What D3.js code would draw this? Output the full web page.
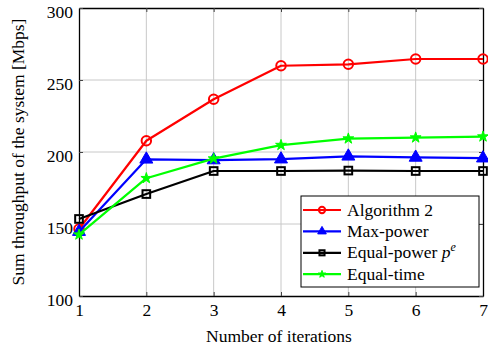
<!DOCTYPE html>
<html>
<head>
<meta charset="utf-8">
<script src="https://cdn.jsdelivr.net/npm/d3@7"></script>
<style>
  body { margin: 0; background: #fff; }
</style>
</head>
<body>
<div id="chart-area"></div>
<script>

// data
let iterations = [1, 2, 3, 4, 5, 6, 7];
let algorithm2 = [146.5, 207.8, 236.6, 259.9, 260.9, 264.6, 264.6];
let maxPower   = [144.7, 194.9, 194.4, 195.0, 197.0, 196.2, 195.7];
let equalPower = [153.5, 170.8, 186.8, 186.8, 187.1, 186.8, 186.8];
let equalTime  = [142.6, 181.8, 195.4, 204.8, 209.3, 210.0, 210.7];
let yTicks = [100, 150, 200, 250, 300];
let seriesNames = ["Algorithm 2", "Max-power", "Equal-power p^e", "Equal-time"];

let FONT = "Liberation Serif";
let FS = 17.5;

let margin = {top: 8, right: 5, bottom: 56, left: 79};
let width = 488 - margin.left - margin.right,
    height = 352 - margin.top - margin.bottom;

let svg = d3.select("#chart-area").append("svg")
    .attr("width", 488)
    .attr("height", 352)
  .append("g")
    .attr("transform", "translate(" + margin.left + "," + margin.top + ")");

let x = d3.scaleLinear().domain([1, 7]).range([0, width]);
let y = d3.scaleLinear().domain([100, 300]).range([height, 0]);

// grid
svg.append("g").selectAll("line").data(iterations.slice(1, -1)).enter().append("line")
    .attr("x1", d => x(d)).attr("x2", d => x(d))
    .attr("y1", 0).attr("y2", height)
    .attr("stroke", "#c8c8c8").attr("stroke-width", 1);
svg.append("g").selectAll("line").data(yTicks.slice(1, -1)).enter().append("line")
    .attr("y1", d => y(d)).attr("y2", d => y(d))
    .attr("x1", 0).attr("x2", width)
    .attr("stroke", "#c8c8c8").attr("stroke-width", 1);

// axes, ticks pointing inward
let xAxis = svg.append("g")
    .attr("transform", "translate(0," + height + ")")
    .call(d3.axisBottom(x).tickValues(iterations).tickFormat(d3.format("d")).tickSizeInner(-4).tickSizeOuter(0).tickPadding(6));
let xTop = svg.append("g")
    .call(d3.axisTop(x).tickValues(iterations).tickFormat("").tickSizeInner(-4).tickSizeOuter(0));
let yAxis = svg.append("g")
    .call(d3.axisLeft(y).tickValues(yTicks).tickSizeInner(-4).tickSizeOuter(0).tickPadding(6));
let yRight = svg.append("g")
    .attr("transform", "translate(" + width + ",0)")
    .call(d3.axisRight(y).tickValues(yTicks).tickFormat("").tickSizeInner(-4).tickSizeOuter(0));

[xAxis, xTop, yAxis, yRight].forEach(a => {
  a.attr("font-family", FONT).attr("font-size", FS);
  a.select(".domain").attr("stroke", "#000").attr("stroke-width", 1.3);
  a.selectAll(".tick line").attr("stroke", "#444");
  a.selectAll("text").attr("fill", "#000");
});
yAxis.selectAll("text").attr("dy", "0.55em");
xAxis.selectAll("text").attr("dy", "0.8em");

// labels
svg.append("text")
    .attr("x", width / 2 - 2).attr("y", height + 46)
    .attr("text-anchor", "middle")
    .attr("font-family", FONT).attr("font-size", FS)
    .text("Number of iterations");
svg.append("text")
    .attr("transform", "translate(" + (-55) + "," + (height / 2) + ") rotate(-90)")
    .attr("text-anchor", "middle")
    .attr("font-family", FONT).attr("font-size", FS)
    .text("Sum throughput of the system [Mbps]");

let series = [
  {name: seriesNames[0], values: algorithm2, color: "#ff0000", marker: "circle"},
  {name: seriesNames[1], values: maxPower,   color: "#0000ff", marker: "triangle"},
  {name: seriesNames[2], values: equalPower, color: "#000000", marker: "square"},
  {name: seriesNames[3], values: equalTime,  color: "#00ff00", marker: "star"}
];

function drawMarker(g, type, color, size) {
  if (type == "circle") {
    g.append("circle").attr("r", size * 1.05).attr("fill", "none")
      .attr("stroke", color).attr("stroke-width", 2);
  } else if (type == "triangle") {
    g.append("path").attr("d", d3.symbol().type(d3.symbolTriangle).size(size * size * 3.6))
      .attr("fill", color).attr("stroke", color).attr("stroke-width", 1);
  } else if (type == "square") {
    g.append("rect").attr("x", -size * 0.85).attr("y", -size * 0.85)
      .attr("width", size * 1.7).attr("height", size * 1.7)
      .attr("fill", "none").attr("stroke", color).attr("stroke-width", 2);
  } else {
    g.append("path").attr("d", d3.symbol().type(d3.symbolStar).size(size * size * 1.8))
      .attr("fill", color).attr("stroke", color).attr("stroke-width", 1);
  }
}

let line = d3.line().x((d, i) => x(iterations[i])).y(d => y(d));

series.forEach(s => {
  svg.append("path").datum(s.values)
      .attr("d", line).attr("fill", "none")
      .attr("stroke", s.color).attr("stroke-width", 2.2)
      .attr("stroke-linejoin", "round");
  s.values.forEach((v, i) => {
    let g = svg.append("g").attr("transform", "translate(" + x(iterations[i]) + "," + y(v) + ")");
    drawMarker(g, s.marker, s.color, 4.5);
  });
});

// legend
let legend = svg.append("g").attr("transform", "translate(" + (301 - margin.left) + "," + (196 - margin.top) + ")");
legend.append("rect").attr("width", 178).attr("height", 91)
    .attr("fill", "#fff").attr("stroke", "#000").attr("stroke-width", 1);
series.forEach((s, i) => {
  let row = legend.append("g").attr("transform", "translate(0," + (14 + i * 21.4) + ")");
  row.append("line").attr("x1", 2).attr("x2", 40).attr("stroke", s.color).attr("stroke-width", 2.2);
  drawMarker(row.append("g").attr("transform", "translate(21,0)"), s.marker, s.color, 3);
  let t = row.append("text").attr("x", 46).attr("y", 5.5)
      .attr("font-family", FONT).attr("font-size", FS);
  if (s.name.indexOf("^") > 0) {
    let parts = s.name.split(" ");
    t.append("tspan").text(parts[0] + " ");
    t.append("tspan").attr("font-style", "italic").text("p");
    t.append("tspan").attr("font-style", "italic").attr("font-size", 12).attr("dy", -7).text("e");
  } else {
    t.text(s.name);
  }
});

</script>
</body>
</html>
